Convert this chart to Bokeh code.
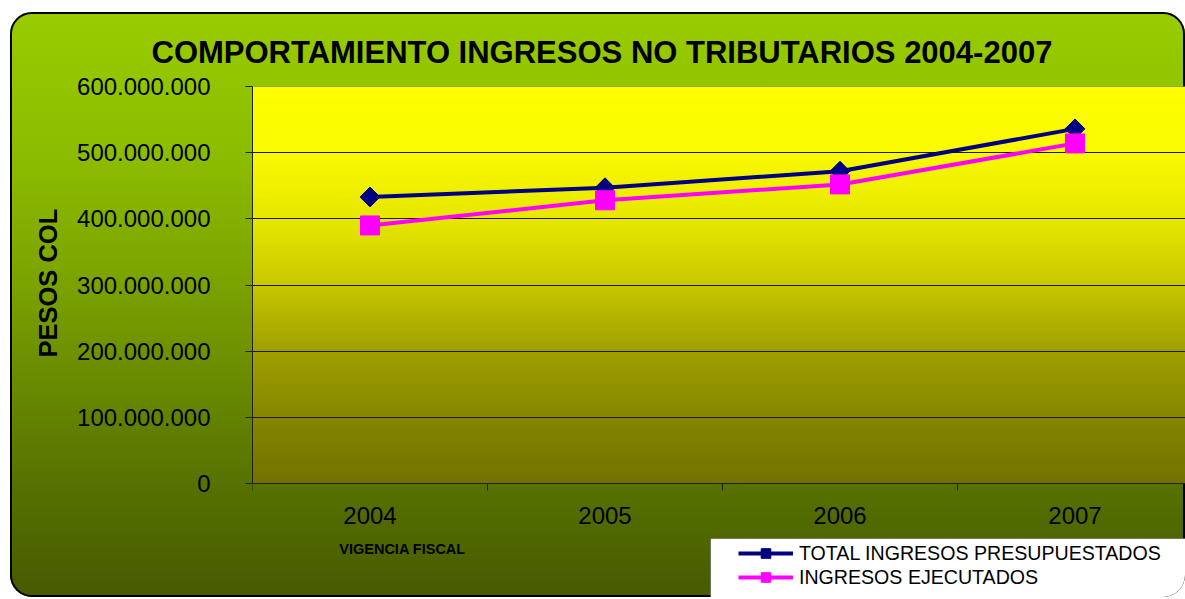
import numpy as np
from bokeh.plotting import figure
from bokeh.models import (Range1d, FixedTicker, Legend, LegendItem, Label,
                          BoxAnnotation, Span, Title)
from bokeh.embed import file_html
from bokeh.resources import INLINE

# ---- data ----
years = ["2004", "2005", "2006", "2007"]
presupuestados = [433e6, 447e6, 472e6, 536e6]
ejecutados = [390e6, 428e6, 452e6, 514e6]
y_ticks = [0, 100e6, 200e6, 300e6, 400e6, 500e6, 600e6]
y_tick_labels = ["0", "100.000.000", "200.000.000", "300.000.000",
                 "400.000.000", "500.000.000", "600.000.000"]
series_names = ["TOTAL INGRESOS PRESUPUESTADOS", "INGRESOS EJECUTADOS"]

xs = list(range(1, len(years) + 1))
FONT = "Liberation Sans"

# ---- layout constants (pixels) ----
W, H = 1175, 585
PLOT_TOP, ZERO_Y = 74, 471          # plot area top / zero line inside the figure
FRAME_LEFT = 242
CAT_W = 235
Y_MAX = y_ticks[-1]
PX_PER_UNIT = (ZERO_Y - PLOT_TOP) / Y_MAX
y_start = -(H - ZERO_Y) / PX_PER_UNIT


def px_to_y(py):
    return (ZERO_Y - py) / PX_PER_UNIT


def px_to_x(px):
    return 0.5 + (px - FRAME_LEFT) / CAT_W


p = figure(width=W, height=H, output_backend="svg", toolbar_location=None,
           margin=(12, 0, 0, 10),
           x_range=Range1d(0.5, px_to_x(W)), y_range=Range1d(y_start, Y_MAX),
           min_border_left=FRAME_LEFT, min_border_right=0, min_border_top=PLOT_TOP,
           min_border_bottom=0)

p.border_fill_alpha = 0
p.background_fill_alpha = 0
p.outline_line_color = None
p.styles = {
    "background": "linear-gradient(to bottom, #99cc00 0%, #8cbc00 25%, #7ca400 45%, #678800 65%, #557000 82%, #475a00 100%)",
    "border-radius": "22px",
    "outline": "2px solid #000000",
    "outline-offset": "-2px",
    "overflow": "hidden",
}

# plot-area gradient as an image
n = 400
t = 1 - (np.arange(n) + 0.5) / n
v = np.interp(t, [0, 0.166, 0.332, 0.5, 0.665, 0.836, 1.0],
              [255, 250, 232, 200, 160, 134, 114])
img = np.zeros((n, 1), dtype=np.uint32)
view = img.view(dtype=np.uint8).reshape((n, 1, 4))
view[:, 0, 0] = v.astype(np.uint8)
view[:, 0, 1] = v.astype(np.uint8)
view[:, 0, 2] = 0
view[:, 0, 3] = 255
p.image_rgba(image=[img], x=0.5, y=0, dw=4.2, dh=Y_MAX, level="image")

# title
p.title.text = "COMPORTAMIENTO INGRESOS NO TRIBUTARIOS 2004-2007"
p.title.text_font = FONT
p.title.text_font_style = "bold"
p.title.text_font_size = "31px"
p.title.text_color = "black"
p.title.align = "left"
p.title.offset = -101
p.title.standoff = 34

# y axis
p.yaxis.ticker = FixedTicker(ticks=y_ticks)
p.yaxis.bounds = (0, Y_MAX)
p.yaxis.major_label_overrides = {tk: lb for tk, lb in zip(y_ticks, y_tick_labels)}
p.yaxis.major_label_text_font = FONT
p.yaxis.major_label_text_font_size = "24px"
p.yaxis.major_label_text_color = "black"
p.yaxis.major_label_standoff = 35
p.yaxis.major_tick_out = 7
p.yaxis.major_tick_in = 0
p.yaxis.minor_tick_line_color = None
p.yaxis.axis_line_color = "#202020"
p.yaxis.major_tick_line_color = "#202020"

# y axis title, placed along the bounded axis
p.add_layout(Title(text="PESOS COL", align="left", offset=H - 345, standoff=25,
                   text_font=FONT, text_font_style="bold", text_font_size="25.5px",
                   text_color="black"), "left")

# x axis, fixed on the zero line
p.xaxis.fixed_location = 0
p.xaxis.ticker = FixedTicker(ticks=xs, minor_ticks=[0.5, 1.5, 2.5, 3.5, 4.5])
p.xaxis.major_label_overrides = {x: y for x, y in zip(xs, years)}
p.xaxis.major_label_text_font = FONT
p.xaxis.major_label_text_font_size = "24px"
p.xaxis.major_label_text_color = "black"
p.xaxis.major_label_standoff = 16
p.xaxis.major_tick_out = 0
p.xaxis.major_tick_in = 0
p.xaxis.minor_tick_out = 7
p.xaxis.minor_tick_in = 0
p.xaxis.minor_tick_line_color = "#202020"
p.xaxis.axis_line_color = "#202020"

p.xgrid.visible = False
p.ygrid.ticker = FixedTicker(ticks=y_ticks[1:-1])
p.ygrid.grid_line_color = "#1a1a00"
p.ygrid.grid_line_width = 1
p.add_layout(Span(location=Y_MAX, dimension="width", line_color="#808080",
                  line_width=1))

# series
l1 = p.line(xs, presupuestados, line_color="#000080", line_width=4)
s1 = p.scatter(xs, presupuestados, marker="square", angle=np.pi / 4, size=14,
               fill_color="#000080", line_color="#000080")
l2 = p.line(xs, ejecutados, line_color="#ff00ff", line_width=4)
s2 = p.scatter(xs, ejecutados, marker="square", size=19,
               fill_color="#ff00ff", line_color="#ff00ff")

# x axis title
p.add_layout(Label(x=px_to_x(392), y=px_to_y(536), text="VIGENCIA FISCAL",
                   text_align="center", text_baseline="middle", text_font=FONT,
                   text_font_style="bold", text_font_size="14.5px",
                   text_color="black"))

# legend box and legend
p.add_layout(BoxAnnotation(left=px_to_x(700), right=px_to_x(W + 50),
                           top=px_to_y(526), bottom=px_to_y(H + 50),
                           fill_color="white", fill_alpha=1, line_color="black",
                           line_width=1))
legend = Legend(items=[LegendItem(label=series_names[0], renderers=[l1, s1]),
                       LegendItem(label=series_names[1], renderers=[l2, s2])],
                location=(725 - FRAME_LEFT, H - 580), background_fill_alpha=0,
                border_line_alpha=0, padding=3, spacing=0, margin=0,
                glyph_width=55, glyph_height=24, label_height=24,
                label_standoff=6, label_text_font=FONT,
                label_text_font_size="19.6px", label_text_color="black")
p.add_layout(legend, "center")

open("out.html", "w").write(file_html(p, INLINE))
